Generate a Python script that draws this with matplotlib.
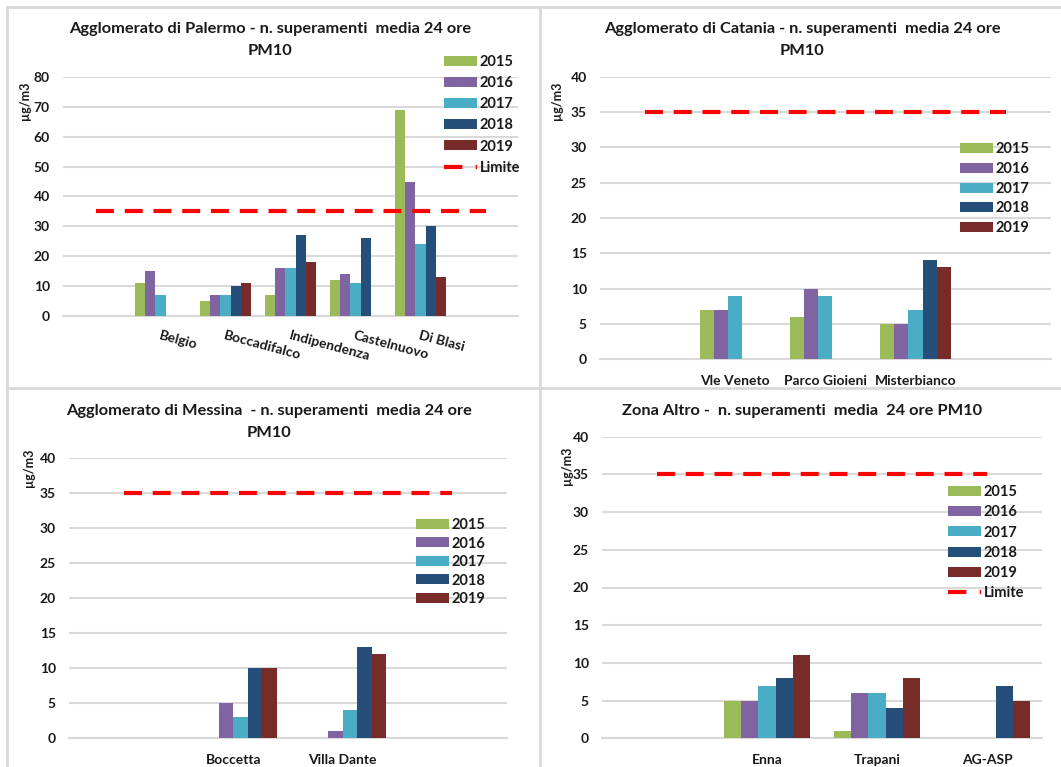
import matplotlib
matplotlib.use("Agg")
import matplotlib.pyplot as plt
import numpy as np
from matplotlib.patches import Patch
from matplotlib.lines import Line2D

plt.rcParams['font.family'] = ['Lato', 'DejaVu Sans']
plt.rcParams['font.weight'] = 'bold'

# ---------------- data ----------------
years = ['2015', '2016', '2017', '2018', '2019']
year_colors = ['#9BBB59', '#8064A2', '#4BACC6', '#254E78', '#772C2A']
limite = 35

palermo_cats = ['', 'Belgio', 'Boccadifalco', 'Indipendenza', 'Castelnuovo', 'Di Blasi', '']
palermo_2015 = [0, 11, 5, 7, 12, 69, 0]
palermo_2016 = [0, 15, 7, 16, 14, 45, 0]
palermo_2017 = [0, 7, 7, 16, 11, 24, 0]
palermo_2018 = [0, 0, 10, 27, 26, 30, 0]
palermo_2019 = [0, 0, 11, 18, 0, 13, 0]

catania_cats = ['', 'Vle Veneto', 'Parco Gioieni', 'Misterbianco', '']
catania_2015 = [0, 7, 6, 5, 0]
catania_2016 = [0, 7, 10, 5, 0]
catania_2017 = [0, 9, 9, 7, 0]
catania_2018 = [0, 0, 0, 14, 0]
catania_2019 = [0, 0, 0, 13, 0]

messina_cats = ['', 'Boccetta', 'Villa Dante', '']
messina_2015 = [0, 0, 0, 0]
messina_2016 = [0, 5, 1, 0]
messina_2017 = [0, 3, 4, 0]
messina_2018 = [0, 10, 13, 0]
messina_2019 = [0, 10, 12, 0]

altro_cats = ['', 'Enna', 'Trapani', 'AG-ASP']
altro_2015 = [0, 5, 1, 0]
altro_2016 = [0, 5, 6, 0]
altro_2017 = [0, 7, 6, 0]
altro_2018 = [0, 8, 4, 7]
altro_2019 = [0, 11, 8, 5]

# ---------------- layout helpers ----------------
W, H = 1061, 767
fig = plt.figure(figsize=(W / 100, H / 100), dpi=100)
fig.patch.set_facecolor('white')

def fx(x):
    return x / W

def fy(y):
    return 1 - y / H

def make_axes(x0, x1, ytop, ybot):
    return fig.add_axes([fx(x0), fy(ybot), (x1 - x0) / W, (ybot - ytop) / H])

GRID = '#D9D9D9'
TICKFS = 10
LEGFS = 10.5
DASH = (4.3, 2.6)
LEG_DASH = (4.4, 3.2)

def draw_panel(ax, cats, series, ymax, ystep, n_slots, slot_offset):
    x = np.arange(len(cats))
    group = 0.79
    bw = group / n_slots
    start = -group / 2
    for i, (vals, col) in enumerate(zip(series, year_colors)):
        pos = x + start + bw * (i + slot_offset) + bw / 2
        ax.bar(pos, vals, width=bw, color=col, zorder=3, linewidth=0)
    ax.plot(x, [limite] * len(cats), color='#FF0000', lw=3,
            dashes=DASH, zorder=4, dash_capstyle='butt')
    ax.set_xlim(-0.5, len(cats) - 0.5)
    ax.set_ylim(0, ymax)
    ax.set_yticks(np.arange(0, ymax + 0.1, ystep))
    ax.yaxis.grid(True, color=GRID, lw=1.5, zorder=0)
    ax.set_axisbelow(True)
    for s in ['top', 'right', 'left']:
        ax.spines[s].set_visible(False)
    ax.spines['bottom'].set_color(GRID)
    ax.spines['bottom'].set_linewidth(1.5)
    ax.tick_params(axis='both', length=0, labelsize=TICKFS, colors='#1a1a1a')
    ax.tick_params(axis='y', pad=9.5)
    ax.set_facecolor('none')
    for lab in ax.get_yticklabels():
        lab.set_fontweight('bold')

def add_legend(ax, x_px, y_px, with_limite, spacing):
    handles = [Patch(facecolor=c, edgecolor='none') for c in year_colors]
    labels = list(years)
    if with_limite:
        handles.append(Line2D([0], [0], color='#FF0000', lw=3, dashes=LEG_DASH,
                              dash_capstyle='butt'))
        labels.append('Limite')
    leg = ax.legend(handles, labels, loc='upper left',
                    bbox_to_anchor=(fx(x_px), fy(y_px)), bbox_transform=fig.transFigure,
                    frameon=False, fontsize=LEGFS, handlelength=2.26, handleheight=0.68,
                    handletextpad=0.2, labelspacing=spacing, borderpad=0, borderaxespad=0)
    for t in leg.get_texts():
        t.set_fontweight('bold')
        t.set_color('#1a1a1a')
    return leg

# ---------------- panel borders ----------------
border = dict(color=GRID, lw=2, transform=fig.transFigure, zorder=0)
fig.add_artist(Line2D([fx(7), fx(7)], [fy(7), fy(767)], **border))
fig.add_artist(Line2D([fx(7), fx(1061)], [fy(7), fy(7)], **border))
fig.add_artist(Line2D([fx(540), fx(540)], [fy(7), fy(767)], **border))
fig.add_artist(Line2D([fx(7), fx(1061)], [fy(388), fy(388)], **border))

TITLEFS = 11.8
TXT = '#1a1a1a'

# ---------------- Palermo ----------------
ax1 = make_axes(63, 518, 77.3, 315.7)
draw_panel(ax1, palermo_cats,
           [palermo_2015, palermo_2016, palermo_2017, palermo_2018, palermo_2019],
           80, 10, 5, 0)
ax1.set_xticks(np.arange(len(palermo_cats)))
ax1.set_xticklabels(palermo_cats, rotation=-15, ha='left', va='top',
                    rotation_mode='anchor', fontsize=TICKFS, fontweight='bold')
ax1.tick_params(axis='x', pad=10)
fig.text(fx(270), fy(29), 'Agglomerato di Palermo - n. superamenti  media 24 ore',
         ha='center', va='center', fontsize=TITLEFS, fontweight='bold', color=TXT)
fig.text(fx(270), fy(51), 'PM10', ha='center', va='center', fontsize=TITLEFS,
         fontweight='bold', color=TXT)
fig.text(fx(25), fy(101), 'µg/m3', rotation=90, ha='center', va='center', fontsize=9,
         fontweight='bold', color=TXT)
add_legend(ax1, 444, 55, True, 0.49)

# ---------------- Catania ----------------
ax2 = make_axes(600, 1050.7, 76.7, 359.3)
draw_panel(ax2, catania_cats,
           [catania_2015, catania_2016, catania_2017, catania_2018, catania_2019],
           40, 5, 5, 0)
ax2.set_xticks(np.arange(len(catania_cats)))
ax2.set_xticklabels(catania_cats, fontsize=TICKFS, fontweight='bold')
ax2.tick_params(axis='x', pad=11)
fig.text(fx(802), fy(29), 'Agglomerato di Catania - n. superamenti  media 24 ore',
         ha='center', va='center', fontsize=TITLEFS, fontweight='bold', color=TXT)
fig.text(fx(802), fy(51), 'PM10', ha='center', va='center', fontsize=TITLEFS,
         fontweight='bold', color=TXT)
fig.text(fx(557), fy(101), 'µg/m3', rotation=90, ha='center', va='center', fontsize=9,
         fontweight='bold', color=TXT)
add_legend(ax2, 960, 142, False, 0.40)

# ---------------- Messina ----------------
ax3 = make_axes(69, 507, 457.7, 738.3)
draw_panel(ax3, messina_cats,
           [messina_2015, messina_2016, messina_2017, messina_2018, messina_2019],
           40, 5, 6, 1)
ax3.set_xticks(np.arange(len(messina_cats)))
ax3.set_xticklabels(messina_cats, fontsize=TICKFS, fontweight='bold')
ax3.tick_params(axis='x', pad=11)
fig.text(fx(269), fy(411), 'Agglomerato di Messina  - n. superamenti  media 24 ore',
         ha='center', va='center', fontsize=TITLEFS, fontweight='bold', color=TXT)
fig.text(fx(269), fy(433), 'PM10', ha='center', va='center', fontsize=TITLEFS,
         fontweight='bold', color=TXT)
fig.text(fx(29), fy(468), 'µg/m3', rotation=90, ha='center', va='center', fontsize=9,
         fontweight='bold', color=TXT)
add_legend(ax3, 416, 518, False, 0.31)

# ---------------- Zona Altro ----------------
ax4 = make_axes(602, 1042, 436.7, 738.3)
draw_panel(ax4, altro_cats,
           [altro_2015, altro_2016, altro_2017, altro_2018, altro_2019],
           40, 5, 5, 0)
ax4.set_xticks(np.arange(len(altro_cats)))
ax4.set_xticklabels(altro_cats, fontsize=TICKFS, fontweight='bold')
ax4.tick_params(axis='x', pad=11)
fig.text(fx(802), fy(411), 'Zona Altro -  n. superamenti  media  24 ore PM10',
         ha='center', va='center', fontsize=TITLEFS, fontweight='bold', color=TXT)
fig.text(fx(567), fy(466), 'µg/m3', rotation=90, ha='center', va='center', fontsize=9,
         fontweight='bold', color=TXT)
add_legend(ax4, 948, 485, True, 0.43)

fig.savefig('out.png', dpi=100, facecolor='white')
